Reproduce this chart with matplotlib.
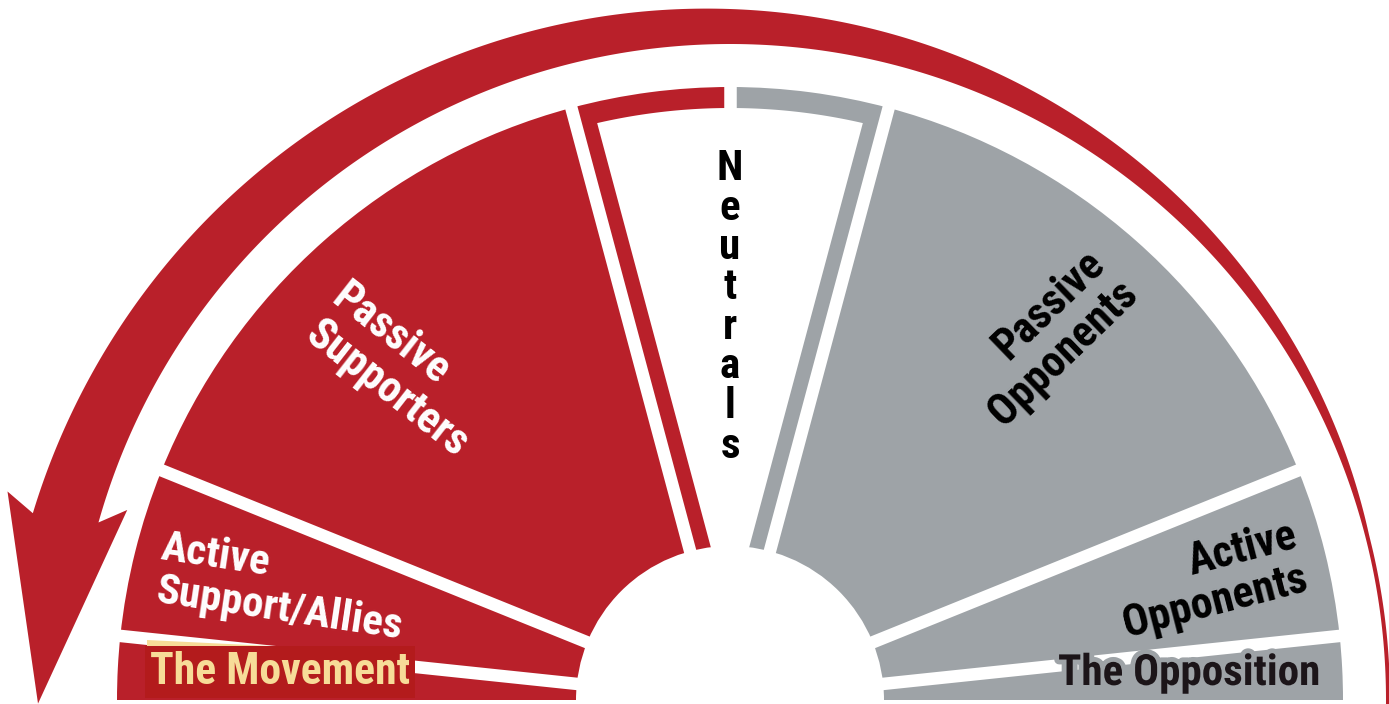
import numpy as np
import matplotlib
matplotlib.use("Agg")
import matplotlib.pyplot as plt
from matplotlib import font_manager as fm
from matplotlib.patches import Polygon, Circle
import matplotlib.patheffects as pe

# ---------------- data ----------------
# segments of the half circle, listed from the right (0 deg) to the left (180 deg)
segments = ["The Opposition", "Active Opponents", "Passive Opponents", "Neutrals",
            "Passive Supporters", "Active Support/Allies", "The Movement"]
spans = [6, 16, 53, 30, 53, 16, 6]          # angular share (degrees) of each segment
groups = ["opp", "opp", "opp", "neutral", "sup", "sup", "sup"]

label_lines_ps = ["Passive", "Supporters"]
label_lines_po = ["Passive", "Opponents"]
label_lines_as = ["Active", "Support/Allies"]
label_lines_ao = ["Active", "Opponents"]
label_neutral = "Neutrals"
label_movement = "The Movement"
label_opposition = "The Opposition"

RED = "#b9202a"
GRAY = "#9ea3a7"
PALE = "#f7dc98"
BOXRED = "#b31b1c"

# ---------------- font ----------------
def has_font(name):
    try:
        fm.findfont(fm.FontProperties(family=name, weight="bold"), fallback_to_default=False)
        return True
    except Exception:
        return False

FONT = "DejaVu Sans"
for cand in ["Liberation Sans Narrow", "Roboto Condensed", "DejaVu Sans Condensed", "Liberation Sans"]:
    if has_font(cand):
        FONT = cand
        break

W, H = 1389, 704
fig = plt.figure(figsize=(W / 100, H / 100), dpi=100)
ax = fig.add_axes([0, 0, 1, 1])

cx, cy = 730, 4
R_OUT, R_IN = 613, 154

# ---------------- wedges via pie ----------------
pie_sizes = spans[:3] + [spans[3] / 2, spans[3] / 2] + spans[4:] + [180]
pie_colors = [GRAY] * 3 + [GRAY, RED] + [RED] * 3 + ["none"]
ax.pie(pie_sizes, colors=pie_colors, startangle=0, counterclock=True,
       radius=R_OUT, center=(cx, cy), wedgeprops=dict(linewidth=0))

# white separators
bounds = np.cumsum(spans)[:-1]
sep_angles = list(bounds) + [bounds[2] + spans[3] / 2]
for a in sep_angles:
    t = np.deg2rad(a)
    ax.plot([cx, cx + (R_OUT + 10) * np.cos(t)], [cy, cy + (R_OUT + 10) * np.sin(t)],
            color="white", lw=9, solid_capstyle="butt", zorder=3)

# neutral interior (white, leaving a coloured border)
a1, a2 = np.deg2rad(bounds[2]), np.deg2rad(bounds[3])
d, r_int = 21, 592
half = (a2 - a1) / 2
mid = (a1 + a2) / 2
P = (cx + d / np.sin(half) * np.cos(mid), cy + d / np.sin(half) * np.sin(mid))
delta = np.arcsin(d / r_int)
arc_t = np.linspace(a1 + delta, a2 - delta, 120)
pts = [P] + [(cx + r_int * np.cos(t), cy + r_int * np.sin(t)) for t in arc_t] + [P]
ax.add_patch(Polygon(pts, closed=True, fc="white", ec="none", zorder=4))

# centre hole
ax.add_patch(Circle((cx, cy), R_IN, fc="white", ec="none", zorder=5))

# ---------------- curved arrow ----------------
r_band = 656
def band_w(deg):
    return np.maximum(4, 35 + 0.41 * (deg - 90))

th_out = np.linspace(-1, 165, 300)
th_in = np.linspace(164.3, -1, 300)
outer = [(cx + (r_band + band_w(t)) * np.cos(np.deg2rad(t)),
          cy + (r_band + band_w(t)) * np.sin(np.deg2rad(t))) for t in th_out]
inner = [(cx + r_band * np.cos(np.deg2rad(t)), cy + r_band * np.sin(np.deg2rad(t))) for t in th_in]
def pol(deg, r):
    return (cx + r * np.cos(np.deg2rad(deg)), cy + r * np.sin(np.deg2rad(deg)))
head = [pol(163.9, 752), pol(180.3, 692), pol(162.5, 632)]
ax.add_patch(Polygon(outer + head + inner, closed=True, fc=RED, ec="none", zorder=2))

# ---------------- labels ----------------
FS = 32
def txt(x, yimg, s, rot, ha, color, fs=FS, **kw):
    return ax.text(x, H - yimg, s, rotation=rot, rotation_mode="anchor", ha=ha,
                   va="baseline", color=color, fontsize=fs, fontweight="bold",
                   family=FONT, zorder=10, **kw)

# Passive Supporters (left aligned, rotated)
txt(330, 302, label_lines_ps[0], -38, "left", "white", fs=31.5)
txt(303, 339, label_lines_ps[1], -38, "left", "white", fs=31.5)
# Passive Opponents (right aligned)
txt(1107, 266, label_lines_po[0], 44, "right", "black", fs=31.5)
txt(1140, 296, label_lines_po[1], 44, "right", "black", fs=31.5)
# Active Support/Allies
txt(160, 559, label_lines_as[0], -8.5, "left", "white", fs=31)
txt(155, 602, label_lines_as[1], -8.5, "left", "white", fs=31)
# Active Opponents
txt(1299, 547, label_lines_ao[0], 14.5, "right", "black", fs=31.5)
txt(1310, 590, label_lines_ao[1], 14.5, "right", "black", fs=31.5)
# Neutrals (stacked letters)
for i, ch in enumerate(label_neutral):
    txt(730, 180 + 39.7 * i, ch, 0, "center", "black", fs=31)

# The Movement (boxed)
ax.add_patch(Polygon([(147, H - 640), (392, H - 652), (147, H - 652)], closed=True,
                     fc=PALE, ec="none", zorder=8))
txt(150, 684, label_movement, 0, "left", PALE, fs=31.5,
    bbox=dict(boxstyle="square,pad=0.12", fc=BOXRED, ec="none"))

# The Opposition (outlined)
t = txt(1058, 685, label_opposition, 0, "left", "#1c1519", fs=31)
t.set_path_effects([pe.withStroke(linewidth=7, foreground=GRAY)])

ax.set_xlim(0, W)
ax.set_ylim(0, H)
ax.set_aspect("auto")
ax.axis("off")
fig.savefig("out.png", dpi=100, facecolor="white")
